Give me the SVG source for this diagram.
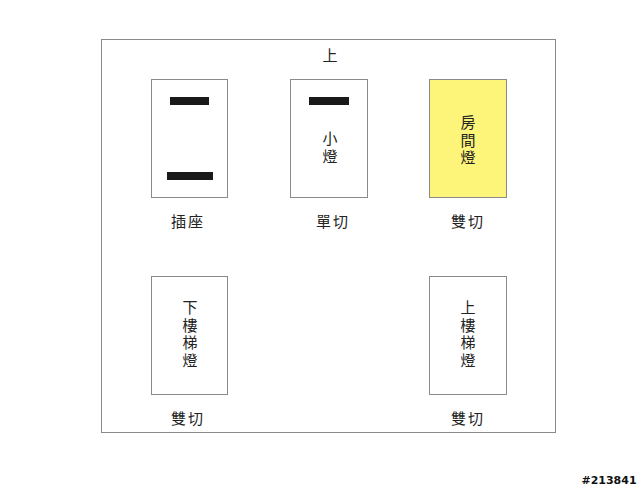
<svg xmlns="http://www.w3.org/2000/svg" width="640" height="487" viewBox="0 0 640 487">
<style>
.box{fill:#fff;stroke:#8a8a8a;stroke-width:1}
.bar{fill:#1a1a1a}
text{font-family:"Noto Sans CJK TC","Noto Sans CJK SC",sans-serif;fill:#222;text-anchor:middle}
.t{font-size:15px}
.v{font-size:15px;writing-mode:vertical-rl;text-anchor:start;letter-spacing:2.5px}
.lbl{font-size:15px;letter-spacing:2px}
</style>
<rect width="640" height="487" fill="#fff"/>
<g id="frame">
<rect x="101.5" y="39.5" width="454" height="393" fill="none" stroke="#8a8a8a"/>
<text class="t" x="330" y="61">上</text>
</g>
<g id="outlet">
<rect class="box" x="151.5" y="79.5" width="76" height="118"/>
<rect class="bar" x="170" y="97" width="39" height="8"/>
<rect class="bar" x="167" y="172" width="46" height="8"/>
<text class="lbl" x="188" y="227">插座</text>
</g>
<g id="single">
<rect class="box" x="290.5" y="79.5" width="77" height="118"/>
<text class="v" x="330" y="131">小燈</text>
<rect class="bar" x="309" y="97" width="40" height="8"/>
<text class="lbl" x="333" y="227">單切</text>
</g>
<g id="room">
<rect x="429.5" y="79.5" width="77" height="118" fill="#fdf57a" stroke="#8a8a8a"/>
<text class="v" x="468" y="115">房間燈</text>
<text class="lbl" x="468" y="227">雙切</text>
</g>
<g id="downstairs">
<rect class="box" x="151.5" y="276.5" width="76" height="118"/>
<text class="v" x="190" y="300">下樓梯燈</text>
<text class="lbl" x="188" y="424">雙切</text>
</g>
<g id="upstairs">
<rect class="box" x="429.5" y="276.5" width="77" height="118"/>
<text class="v" x="468" y="300">上樓梯燈</text>
<text class="lbl" x="468" y="424">雙切</text>
</g>
<g id="connectors"/>
<text x="609" y="484" style="font-family:'DejaVu Sans',sans-serif;font-size:11px;font-weight:bold;fill:#111;stroke:#fff;stroke-width:0.5;paint-order:stroke">#213841</text>
</svg>
